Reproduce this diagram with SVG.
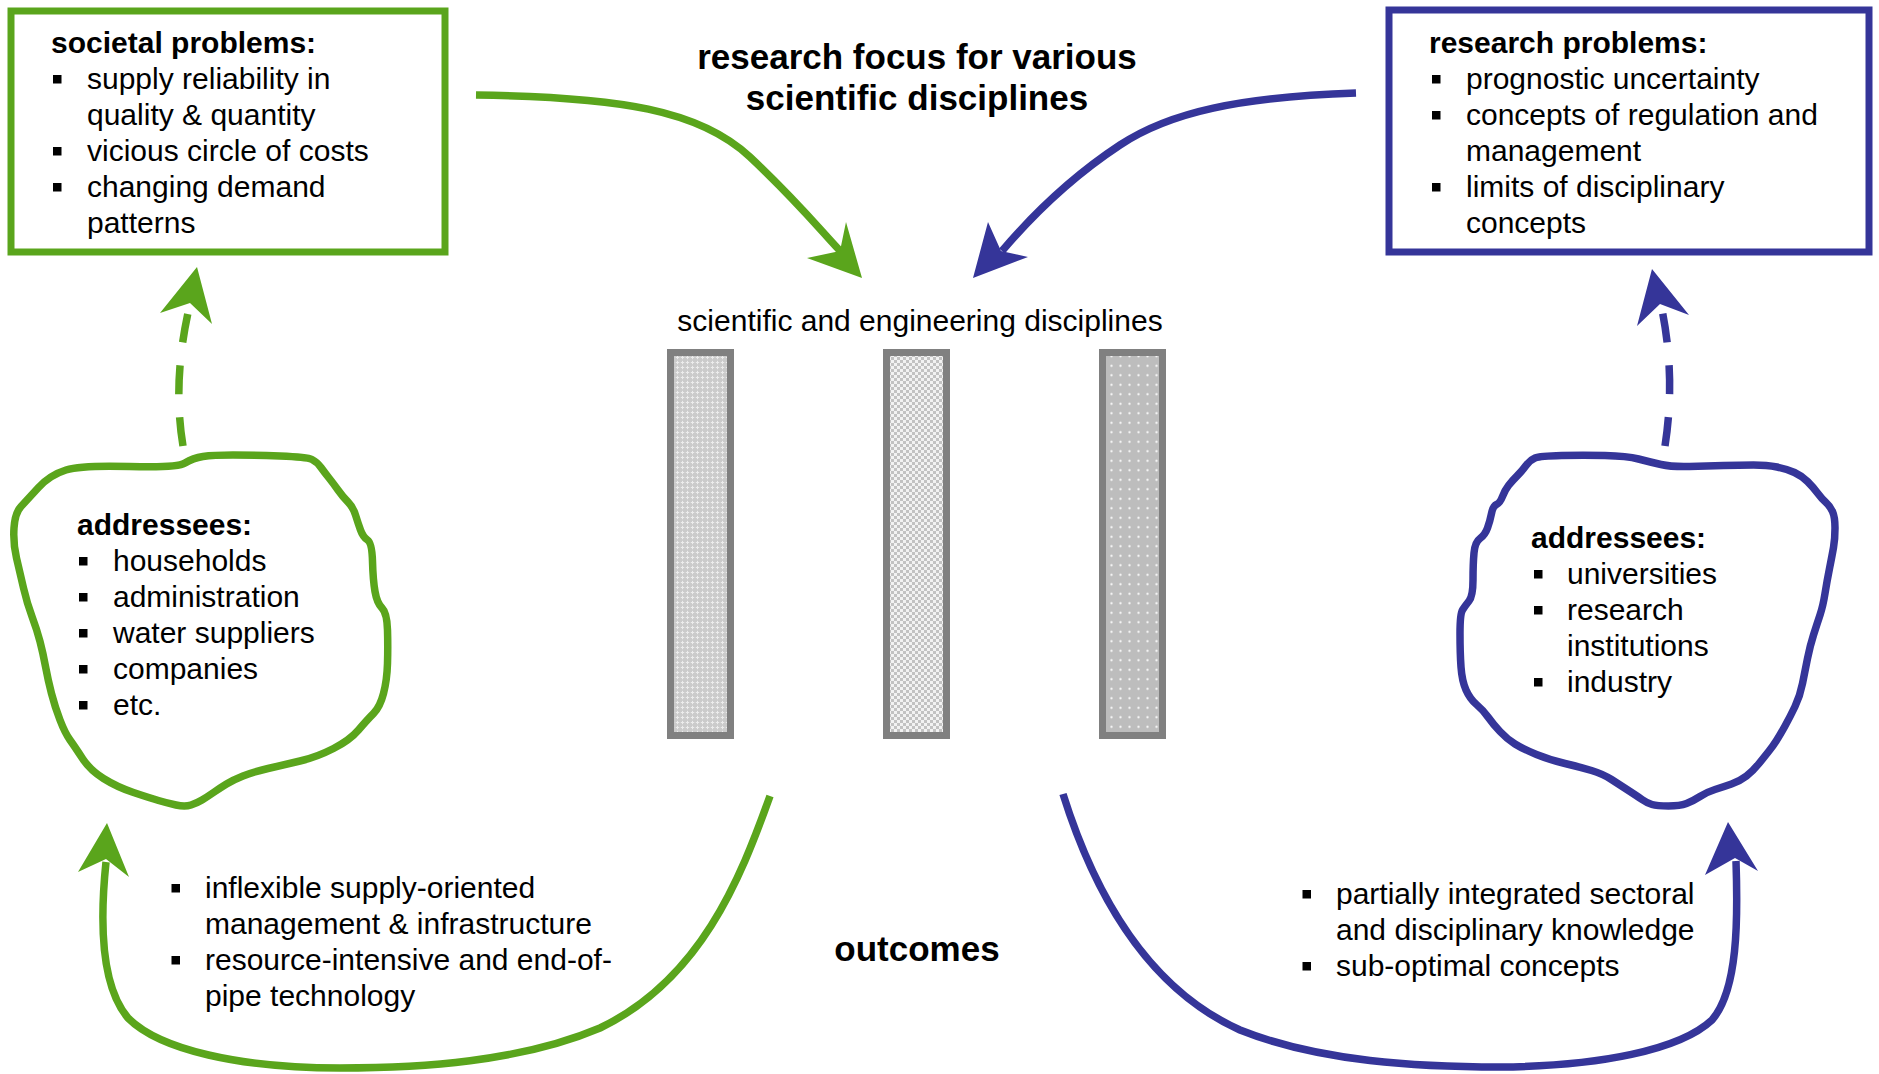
<svg xmlns="http://www.w3.org/2000/svg" width="1879" height="1074" viewBox="0 0 1879 1074">
<style>
.t{font-family:"Liberation Sans",Arial,sans-serif;font-size:30px;fill:#000}
.b{font-weight:bold}
.h{font-family:"Liberation Sans",Arial,sans-serif;font-size:35px;font-weight:bold;fill:#000;text-anchor:middle}
.gs{fill:none;stroke:#5aa51c;stroke-width:7.5}
.bs{fill:none;stroke:#353599;stroke-width:7.5}
.gf{fill:#5aa51c}
.bf{fill:#353599}
.dash{stroke-dasharray:29 23;stroke-linecap:butt}
.blob{stroke-linejoin:round;fill:#fff}
.bar{stroke:#808080;stroke-width:7}
</style>
<defs>
<rect id="bul" width="8.5" height="8.5" fill="#000"/>
<pattern id="p1" width="5" height="5" patternUnits="userSpaceOnUse">
<rect width="5" height="5" fill="#cbcbcb"/>
<path d="M2.5 0.8V4.2M0.8 2.5H4.2" stroke="#ececec" stroke-width="1"/>
</pattern>
<pattern id="p2" width="6" height="6" patternUnits="userSpaceOnUse">
<rect width="6" height="6" fill="#f2f2f2"/>
<rect width="3" height="3" fill="#c2c2c2"/>
<rect x="3" y="3" width="3" height="3" fill="#c2c2c2"/>
</pattern>
<pattern id="p3" width="9" height="9.5" patternUnits="userSpaceOnUse">
<rect width="9" height="9.5" fill="#bdbdbd"/>
<circle cx="4.5" cy="4.7" r="1.2" fill="#f4f4f4"/>
</pattern>
</defs>
<rect width="1879" height="1074" fill="#fff"/>

<g id="connectors">
<path class="gs" d="M476,95 C620,97 700,110 750,157 C800,204 820,230 843,254"/>
<polygon class="gf" points="862,278 807,258 840,251 846,222"/>
<path class="bs" d="M1356,93 C1240,97 1170,112 1120,145 C1070,178 1030,218 1002,251"/>
<polygon class="bf" points="973,278 988,222 1001,251 1028,257"/>
<path class="gs" d="M770,796 C740,880 700,980 600,1028 C520,1062 420,1068 340,1068 C240,1068 160,1050 128,1018 C100,985 100,920 106,862"/>
<polygon class="gf" points="107,823 129,877 106,859 78,872"/>
<path class="bs" d="M1063,794 C1090,880 1140,985 1240,1030 C1320,1062 1420,1067 1500,1067 C1600,1066 1680,1050 1712,1020 C1738,990 1738,920 1736,861"/>
<polygon class="bf" points="1728,822 1758,871 1735,858 1705,875"/>
<path class="gs dash" d="M183,446 Q172,380 190,304"/>
<polygon class="gf" points="197,267 212,324 190,303 160,313"/>
<path class="bs dash" d="M1665,446 Q1676,375 1661,305"/>
<polygon class="bf" points="1652,269 1689,315 1660,304 1637,326"/>
</g>

<g id="title">
<text class="h" x="917" y="69">research focus for various</text>
<text class="h" x="917" y="110">scientific disciplines</text>
</g>

<g id="societal-problems">
<rect x="11" y="11" width="434" height="241" fill="#fff" stroke="#5aa51c" stroke-width="7"/>
<text class="t b" x="51" y="53">societal problems:</text>
<use href="#bul" x="53" y="75"/>
<text class="t" x="87" y="89">supply reliability in</text>
<text class="t" x="87" y="125">quality &amp; quantity</text>
<use href="#bul" x="53" y="147"/>
<text class="t" x="87" y="161">vicious circle of costs</text>
<use href="#bul" x="53" y="183"/>
<text class="t" x="87" y="197">changing demand</text>
<text class="t" x="87" y="233">patterns</text>
</g>

<g id="research-problems">
<rect x="1389" y="10" width="480" height="242" fill="#fff" stroke="#353599" stroke-width="7"/>
<text class="t b" x="1429" y="53">research problems:</text>
<use href="#bul" x="1432" y="75"/>
<text class="t" x="1466" y="89">prognostic uncertainty</text>
<use href="#bul" x="1432" y="111"/>
<text class="t" x="1466" y="125">concepts of regulation and</text>
<text class="t" x="1466" y="161">management</text>
<use href="#bul" x="1432" y="183"/>
<text class="t" x="1466" y="197">limits of disciplinary</text>
<text class="t" x="1466" y="233">concepts</text>
</g>

<g id="disciplines">
<text class="t" x="920" y="331" text-anchor="middle">scientific and engineering disciplines</text>
<rect class="bar" x="670.5" y="352.5" width="60" height="383" fill="url(#p1)"/>
<rect class="bar" x="886.5" y="352.5" width="60" height="383" fill="url(#p2)"/>
<rect class="bar" x="1102.5" y="352.5" width="60" height="383" fill="url(#p3)"/>
</g>

<g id="addressees-society">
<path class="gs blob" d="M185,463 Q177,468 129.5,466.5 Q82,465 66,470 Q50,475 38.5,487.5 Q27,500 21,506.5 Q15,513 14,528 Q13,543 16.5,558 Q20,573 23.5,588 Q27,603 32,616.5 Q37,630 40,641.5 Q43,653 45.5,666.5 Q48,680 51.5,693.5 Q55,707 60,720 Q65,733 70,740 Q75,747 82.5,758.5 Q90,770 103.5,778.5 Q117,787 133.5,792.5 Q150,798 158.5,800.5 Q167,803 176,805 Q185,807 191,805 Q197,803 202,800 Q207,797 213.5,792.5 Q220,788 226.5,784 Q233,780 243,776 Q253,772 268,768.5 Q283,765 300,761 Q317,757 333.5,748.5 Q350,740 358.5,730 Q367,720 373.5,713.5 Q380,707 383.5,693.5 Q387,680 387.5,663.5 Q388,647 387.5,630 Q387,613 382,608 Q377,603 375,591.5 Q373,580 372.5,561.5 Q372,543 367.5,540 Q363,537 360.5,530 Q358,523 355.5,515 Q353,507 348,502 Q343,497 338,490 Q333,483 329,478 Q325,473 321,467.5 Q317,462 312,459.5 Q307,457 280,456 Q253,455 233,455 Q213,455 203,456.5 Q193,458 185,463 Z"/>
<text class="t b" x="77" y="535">addressees:</text>
<use href="#bul" x="79" y="557"/>
<text class="t" x="113" y="571">households</text>
<use href="#bul" x="79" y="593"/>
<text class="t" x="113" y="607">administration</text>
<use href="#bul" x="79" y="629"/>
<text class="t" x="113" y="643">water suppliers</text>
<use href="#bul" x="79" y="665"/>
<text class="t" x="113" y="679">companies</text>
<use href="#bul" x="79" y="701"/>
<text class="t" x="113" y="715">etc.</text>
</g>

<g id="addressees-research">
<path class="bs blob" d="M1689.5,466.5 Q1672,467 1661,464.5 Q1650,462 1638.5,459 Q1627,456 1605,455.5 Q1583,455 1561.5,455.5 Q1540,456 1535,458 Q1530,460 1526,465.5 Q1522,471 1517,476 Q1512,481 1508.5,485.5 Q1505,490 1502.5,496.5 Q1500,503 1496.5,504.5 Q1493,506 1491.5,513.5 Q1490,521 1487.5,528 Q1485,535 1480,538.5 Q1475,542 1474,553 Q1473,564 1473,580 Q1473,596 1469,601 Q1465,606 1462.5,610 Q1460,614 1460,633.5 Q1460,653 1461,667 Q1462,681 1466,690 Q1470,699 1476.5,704.5 Q1483,710 1488,717 Q1493,724 1500,731.5 Q1507,739 1515,744 Q1523,749 1536.5,754.5 Q1550,760 1565,763.5 Q1580,767 1591.5,770.5 Q1603,774 1611.5,779.5 Q1620,785 1628.5,790.5 Q1637,796 1642,799.5 Q1647,803 1652,804.5 Q1657,806 1668.5,806 Q1680,806 1686.5,803.5 Q1693,801 1700,796.5 Q1707,792 1715,789.5 Q1723,787 1731.5,784 Q1740,781 1746.5,776 Q1753,771 1759,763.5 Q1765,756 1769,751 Q1773,746 1776.5,740.5 Q1780,735 1785,726 Q1790,717 1795,706.5 Q1800,696 1802.5,683.5 Q1805,671 1807.5,658.5 Q1810,646 1813.5,635 Q1817,624 1820,615 Q1823,606 1825,593.5 Q1827,581 1829.5,568.5 Q1832,556 1833.5,547.5 Q1835,539 1835,528 Q1835,517 1832.5,511.5 Q1830,506 1826,502.5 Q1822,499 1817.5,493 Q1813,487 1807.5,481.5 Q1802,476 1794.5,472.5 Q1787,469 1777,467 Q1767,465 1753.5,465 Q1740,465 1723.5,465.5 Q1707,466 1689.5,466.5 Z"/>
<text class="t b" x="1531" y="548">addressees:</text>
<use href="#bul" x="1534" y="570"/>
<text class="t" x="1567" y="584">universities</text>
<use href="#bul" x="1534" y="606"/>
<text class="t" x="1567" y="620">research</text>
<text class="t" x="1567" y="656">institutions</text>
<use href="#bul" x="1534" y="678"/>
<text class="t" x="1567" y="692">industry</text>
</g>

<g id="outcomes">
<text class="h" x="917" y="961">outcomes</text>
</g>

<g id="outcomes-society">
<use href="#bul" x="171.5" y="884"/>
<text class="t" x="205" y="898">inflexible supply-oriented</text>
<text class="t" x="205" y="934">management &amp; infrastructure</text>
<use href="#bul" x="171.5" y="956"/>
<text class="t" x="205" y="970">resource-intensive and end-of-</text>
<text class="t" x="205" y="1006">pipe technology</text>
</g>

<g id="outcomes-research">
<use href="#bul" x="1302.5" y="890"/>
<text class="t" x="1336" y="904">partially integrated sectoral</text>
<text class="t" x="1336" y="940">and disciplinary knowledge</text>
<use href="#bul" x="1302.5" y="962"/>
<text class="t" x="1336" y="976">sub-optimal concepts</text>
</g>
</svg>
